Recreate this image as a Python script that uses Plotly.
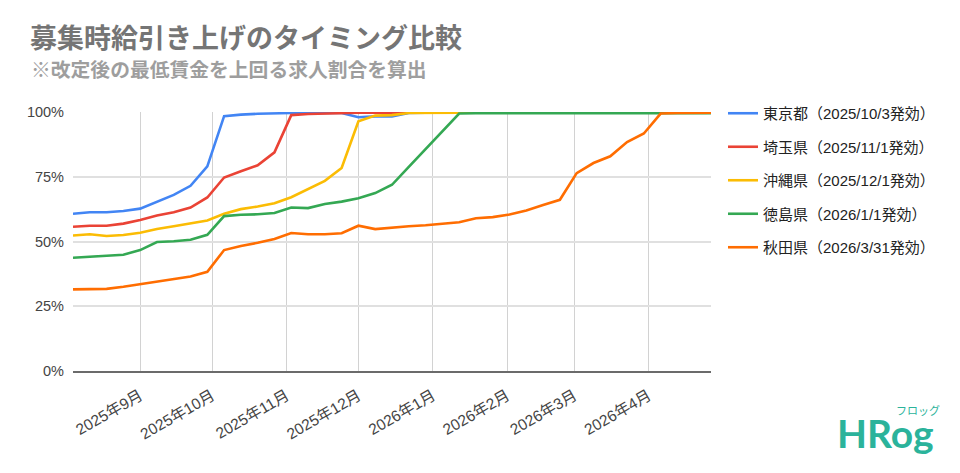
import plotly.graph_objects as go

dates = [
    "2025-08-04", "2025-08-11", "2025-08-18", "2025-08-25",
    "2025-09-01", "2025-09-08", "2025-09-15", "2025-09-22", "2025-09-29",
    "2025-10-06", "2025-10-13", "2025-10-20", "2025-10-27",
    "2025-11-03", "2025-11-10", "2025-11-17", "2025-11-24",
    "2025-12-01", "2025-12-08", "2025-12-15", "2025-12-22", "2025-12-29",
    "2026-01-05", "2026-01-12", "2026-01-19", "2026-01-26",
    "2026-02-02", "2026-02-09", "2026-02-16", "2026-02-23",
    "2026-03-02", "2026-03-09", "2026-03-16", "2026-03-23", "2026-03-30",
    "2026-04-06", "2026-04-13", "2026-04-20", "2026-04-27",
]

tokyo = [60.7, 61.3, 61.3, 61.8, 62.7, 65.4, 68.0, 71.5, 79.0,
         98.4, 99.0, 99.3, 99.5, 99.6, 99.6, 99.6, 99.6,
         98.0, 98.3, 98.3, 99.6, 99.7, 99.7, 99.7, 99.7, 99.7,
         99.7, 99.7, 99.7, 99.7, 99.7, 99.7, 99.7, 99.7, 99.7,
         99.7, 99.7, 99.7, 99.7]
saitama = [55.7, 56.1, 56.1, 56.9, 58.3, 60.0, 61.3, 63.1, 67.0,
           74.7, 77.1, 79.4, 84.4, 98.8, 99.2, 99.4, 99.6,
           99.7, 99.7, 99.7, 99.7, 99.7, 99.7, 99.7, 99.7, 99.7,
           99.7, 99.7, 99.7, 99.7, 99.7, 99.7, 99.7, 99.7, 99.7,
           99.7, 99.7, 99.7, 99.7]
okinawa = [52.3, 52.8, 52.1, 52.5, 53.4, 54.8, 55.9, 57.0, 58.1,
           60.7, 62.5, 63.5, 64.8, 67.1, 70.3, 73.4, 78.4,
           96.4, 98.6, 98.8, 99.6, 99.7, 99.7, 99.7, 99.7, 99.7,
           99.7, 99.7, 99.7, 99.7, 99.7, 99.7, 99.7, 99.7, 99.7,
           99.7, 99.7, 99.7, 99.7]
tokushima = [43.7, 44.1, 44.6, 44.9, 46.7, 49.8, 50.1, 50.7, 52.6,
             59.8, 60.3, 60.5, 61.0, 63.1, 62.9, 64.5, 65.4,
             66.7, 68.7, 71.9, 78.8, 85.6, 92.6, 99.4, 99.5, 99.5,
             99.5, 99.5, 99.5, 99.5, 99.5, 99.5, 99.5, 99.5, 99.5,
             99.5, 99.5, 99.5, 99.5]
akita = [31.5, 31.7, 31.7, 32.5, 33.5, 34.6, 35.5, 36.5, 38.3,
         46.7, 48.3, 49.5, 51.0, 53.3, 52.8, 52.8, 53.2,
         56.1, 54.8, 55.4, 55.9, 56.3, 56.8, 57.4, 59.0, 59.4,
         60.4, 62.0, 64.1, 66.1, 76.4, 80.3, 82.9, 88.4, 91.7,
         99.4, 99.6, 99.7, 99.7]

series_names = [
    "東京都（2025/10/3発効）",
    "埼玉県（2025/11/1発効）",
    "沖縄県（2025/12/1発効）",
    "徳島県（2026/1/1発効）",
    "秋田県（2026/3/31発効）",
]
series_values = [tokyo, saitama, okinawa, tokushima, akita]
colors = ["#4285F4", "#EA4335", "#FBBC04", "#34A853", "#FF6D01"]

month_ticks = ["2025-09-01", "2025-10-01", "2025-11-01", "2025-12-01",
               "2026-01-01", "2026-02-01", "2026-03-01", "2026-04-01"]
month_labels = ["2025年9月", "2025年10月", "2025年11月", "2025年12月",
                "2026年1月", "2026年2月", "2026年3月", "2026年4月"]
y_ticks = [0, 25, 50, 75, 100]
y_labels = ["0%", "25%", "50%", "75%", "100%"]

title_text = "募集時給引き上げのタイミング比較"
subtitle_text = "※改定後の最低賃金を上回る求人割合を算出"
logo_text = "HRog"
logo_sub = "フロッグ"

FONT = "'Liberation Sans', Arial, 'Noto Sans CJK JP', sans-serif"
JFONT = "'Noto Sans CJK JP', sans-serif"

W, H = 960, 473
L, R, T, B = 73, 249, 112, 102
pw = W - L - R
ph = H - T - B

def px2x(px):
    return (px - L) / pw

def py2y(py):
    return (H - B - py) / ph

fig = go.Figure()
for name, vals, col in zip(series_names, series_values, colors):
    fig.add_trace(go.Scatter(
        x=dates, y=vals, name=name, mode="lines",
        line=dict(color=col, width=2.6),
        legendgroup=name,
    ))

fig.update_layout(
    width=W, height=H, autosize=False,
    margin=dict(l=L, r=R, t=T, b=B),
    paper_bgcolor="white", plot_bgcolor="white",
    font=dict(family=FONT, size=14, color="#444444"),
    showlegend=True,
    legend=dict(
        x=px2x(723), y=py2y(97), xanchor="left", yanchor="top",
        font=dict(family=FONT, size=15, color="#222222"),
        tracegroupgap=11, bgcolor="rgba(0,0,0,0)",
    ),
    xaxis=dict(
        type="date", range=[dates[0], dates[-1]],
        tickmode="array", tickvals=month_ticks, ticktext=month_labels,
        tickangle=-30, showgrid=True, gridcolor="#d2d2d2", gridwidth=1,
        showline=True, linecolor="#6b6b6b", linewidth=2,
        ticks="", tickfont=dict(size=15.5, color="#444444"),
        ticklabelstandoff=8,
        zeroline=False,
    ),
    yaxis=dict(
        range=[0, 100], tickmode="array", tickvals=y_ticks, ticktext=y_labels,
        showgrid=True, gridcolor="#e0e0e0", gridwidth=1.5,
        zeroline=False, showline=False, ticks="",
        ticklabelstandoff=8,
        tickfont=dict(size=14.5, color="#444444"),
    ),
    annotations=[
        dict(text="<b>" + title_text + "</b>", xref="paper", yref="paper",
             x=px2x(28), y=py2y(37), xanchor="left", yanchor="middle",
             showarrow=False, font=dict(family=JFONT, size=27, color="#757575")),
        dict(text="<b>" + subtitle_text + "</b>", xref="paper", yref="paper",
             x=px2x(29), y=py2y(68.5), xanchor="left", yanchor="middle",
             showarrow=False, font=dict(family=JFONT, size=19.8, color="#9e9e9e")),
        dict(text="<b>" + logo_text + "</b>", xref="paper", yref="paper",
             x=px2x(835), y=py2y(433), xanchor="left", yanchor="middle",
             showarrow=False, font=dict(family="Lato, sans-serif", size=39, color="#2bb39b")),
        dict(text=logo_sub, xref="paper", yref="paper",
             x=px2x(894), y=py2y(410), xanchor="left", yanchor="middle",
             showarrow=False, font=dict(family=JFONT, size=11, color="#2bb39b")),
    ],
)

fig.write_html("out.html")
